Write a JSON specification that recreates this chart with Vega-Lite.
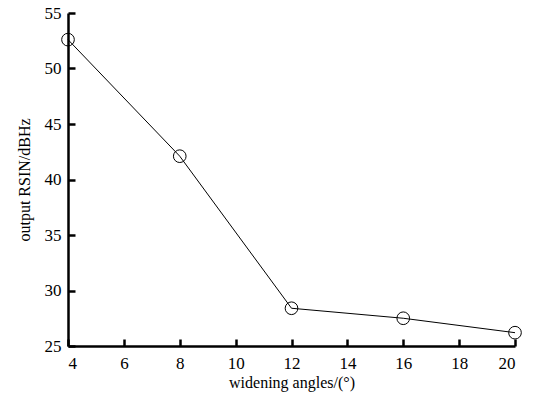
{
  "$schema": "https://vega.github.io/schema/vega-lite/v6.json",
  "width": 447,
  "height": 333,
  "autosize": {"type": "none"},
  "padding": {"left": 68, "top": 13, "right": 23, "bottom": 50},
  "background": "white",
  "config": {
    "view": {"stroke": null}
  },
  "data": {
    "values": [
      {"angle": 4, "r": 52.6},
      {"angle": 8, "r": 42.1},
      {"angle": 12, "r": 28.4},
      {"angle": 16, "r": 27.5},
      {"angle": 20, "r": 26.2}
    ]
  },
  "encoding": {
    "x": {
      "field": "angle", "type": "quantitative",
      "scale": {"domain": [4, 20], "nice": false, "zero": false},
      "axis": {"values": [4, 6, 8, 10, 12, 14, 16, 18, 20], "grid": false, "ticks": true, "tickSize": -7, "tickWidth": 2.5, "tickColor": "black", "tickOpacity": 1, "domainColor": "black", "domainWidth": 2.5, "labelFont": "Liberation Serif", "labelFontSize": 17, "labelColor": "black", "labelPadding": 16, "title": "widening angles/(°)", "titleFont": "Liberation Serif", "titleFontSize": 16, "titleFontWeight": "normal", "titleColor": "black", "titlePadding": 3}
    },
    "y": {
      "field": "r", "type": "quantitative",
      "scale": {"domain": [25, 55], "nice": false, "zero": false},
      "axis": {"values": [25, 30, 35, 40, 45, 50, 55], "grid": false, "ticks": true, "tickSize": -7, "tickWidth": 2.5, "tickColor": "black", "tickOpacity": 1, "domainColor": "black", "domainWidth": 2.5, "labelFont": "Liberation Serif", "labelFontSize": 17, "labelColor": "black", "labelPadding": 14, "title": "output RSIN/dBHz", "titleFont": "Liberation Serif", "titleFontSize": 16, "titleFontWeight": "normal", "titleColor": "black", "titlePadding": 12}
    }
  },
  "layer": [
    {"mark": {"type": "line", "color": "black", "strokeWidth": 1}},
    {"mark": {"type": "point", "shape": "circle", "filled": false, "color": "black", "strokeWidth": 1, "size": 160, "opacity": 1}}
  ]
}
